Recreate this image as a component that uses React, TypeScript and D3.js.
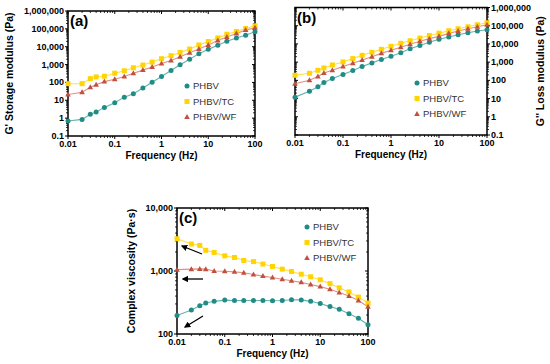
import React from 'react';
import * as d3 from 'd3';

// frequency sweep (Hz)
const freq = [0.01, 0.02, 0.03, 0.04, 0.06, 0.1, 0.16, 0.25, 0.4, 0.63, 1, 1.6, 2.5, 4, 6.3, 10, 16, 25, 40, 63, 100];

// (a) storage modulus G' (Pa)
const gStorePHBV = [0.69, 0.85, 1.65, 2.2, 4, 7.2, 15, 23, 49, 102, 214, 470, 980, 2000, 4100, 7100, 12000, 20000, 31000, 44000, 68000];
const gStoreTC = [85, 85, 163, 203, 223, 330, 450, 660, 940, 1380, 2130, 3150, 4800, 7400, 12500, 19500, 31000, 50000, 71000, 105000, 148000];
const gStoreWF = [21, 28, 53, 75, 111, 152, 215, 330, 490, 740, 1140, 1700, 2750, 4600, 7400, 12500, 22000, 35000, 55000, 85000, 115000];

// (b) loss modulus G'' (Pa)
const gLossPHBV = [12, 25, 44, 76, 125, 210, 345, 570, 910, 1390, 2100, 3300, 5500, 8300, 12300, 17900, 24000, 32000, 41000, 51000, 60000];
const gLossTC = [190, 245, 357, 480, 700, 1030, 1560, 2380, 3480, 5050, 7400, 10800, 15000, 21000, 29000, 39000, 53000, 68000, 87000, 113000, 145000];
const gLossWF = [65, 102, 163, 255, 357, 570, 870, 1320, 2000, 3030, 4450, 6500, 9500, 14000, 19500, 26000, 38000, 51000, 68000, 87000, 112000];

// (c) complex viscosity (Pa·s)
const etaPHBV = [196, 240, 280, 310, 330, 345, 340, 340, 340, 340, 338, 340, 350, 348, 330, 305, 272, 247, 210, 178, 140];
const etaTC = [3250, 2680, 2550, 2130, 1970, 1740, 1640, 1470, 1410, 1290, 1180, 1070, 980, 890, 810, 725, 630, 540, 465, 385, 310];
const etaWF = [1050, 1070, 1080, 1070, 1000, 990, 970, 940, 880, 830, 790, 740, 700, 660, 610, 565, 515, 455, 400, 340, 270];

const seriesNames = ['PHBV', 'PHBV/TC', 'PHBV/WF'];
const xTicks = [0.01, 0.1, 1, 10, 100];
const modTicks = [0.1, 1, 10, 100, 1000, 10000, 100000, 1000000];
const etaTicks = [100, 1000, 10000];

const markColor = ['#218c85', '#ffd400', '#c24f3f'];
const lineColor = ['#62b5ae', '#ffe040', '#e2907f'];
const FONT = 'Liberation Sans, Arial, sans-serif';

const fmt = (v: number) => (v < 1 ? String(v) : d3.format(',')(v));

function Marker({ kind, x, y }: { kind: number; x: number; y: number }) {
  if (kind === 0) return <circle cx={x} cy={y} r={2.5} fill={markColor[0]} />;
  if (kind === 1) return <rect x={x - 2.5} y={y - 2.5} width={5} height={5} fill={markColor[1]} />;
  return <path d={`M${x},${y - 3}L${x + 2.8},${y + 2}L${x - 2.8},${y + 2}Z`} fill={markColor[2]} />;
}

function minorTicks(lo: number, hi: number) {
  const out: number[] = [];
  for (let e = Math.floor(Math.log10(lo)); e < Math.ceil(Math.log10(hi)); e++) {
    for (let m = 2; m <= 9; m++) {
      const v = m * Math.pow(10, e);
      if (v > lo && v < hi) out.push(v);
    }
  }
  return out;
}

type PanelProps = {
  left: number; right: number; top: number; bottom: number;
  yDomain: [number, number]; yTicks: number[];
  side: 'left' | 'right';
  title: string; titleX: number;
  letter: string;
  legend: [number, number];
  data: number[][];
  children?: React.ReactNode;
};

function Panel(p: PanelProps) {
  const x = d3.scaleLog().domain([0.01, 100]).range([p.left, p.right]);
  const y = d3.scaleLog().domain(p.yDomain).range([p.bottom, p.top]);
  const line = d3.line<number>().x((_, i) => x(freq[i])).y((d) => y(d));
  const xMinor = minorTicks(0.01, 100);
  const yMinor = minorTicks(p.yDomain[0], p.yDomain[1]);
  const axisX = p.side === 'left' ? p.left : p.right;
  const dir = p.side === 'left' ? -1 : 1;
  const otherX = p.side === 'left' ? p.right : p.left;
  const midY = (p.top + p.bottom) / 2;
  return (
    <g fontFamily={FONT}>
      {/* ticks */}
      {xTicks.map((t) => (
        <g key={'xt' + t}>
          <line x1={x(t)} x2={x(t)} y1={p.bottom} y2={p.bottom + 3} stroke="#000" strokeWidth={1} />
          <line x1={x(t)} x2={x(t)} y1={p.top} y2={p.top + 3} stroke="#000" strokeWidth={1} />
          <text x={x(t)} y={p.bottom + 11} textAnchor="middle" fontSize={9} fontWeight="bold">{fmt(t)}</text>
        </g>
      ))}
      {xMinor.map((t) => (
        <g key={'xm' + t}>
          <line x1={x(t)} x2={x(t)} y1={p.bottom} y2={p.bottom + 2} stroke="#000" strokeWidth={0.8} />
          <line x1={x(t)} x2={x(t)} y1={p.top} y2={p.top + 2} stroke="#000" strokeWidth={0.8} />
        </g>
      ))}
      {p.yTicks.map((t) => (
        <g key={'yt' + t}>
          <line x1={axisX} x2={axisX + dir * 3} y1={y(t)} y2={y(t)} stroke="#000" strokeWidth={1} />
          <line x1={otherX} x2={otherX + dir * 3} y1={y(t)} y2={y(t)} stroke="#000" strokeWidth={1} />
          <text x={axisX + dir * 4} y={y(t) + 3} textAnchor={p.side === 'left' ? 'end' : 'start'} fontSize={9} fontWeight="bold">{fmt(t)}</text>
        </g>
      ))}
      {yMinor.map((t) => (
        <g key={'ym' + t}>
          <line x1={axisX} x2={axisX + dir * 2} y1={y(t)} y2={y(t)} stroke="#000" strokeWidth={0.8} />
          <line x1={otherX} x2={otherX + dir * 2} y1={y(t)} y2={y(t)} stroke="#000" strokeWidth={0.8} />
        </g>
      ))}
      <rect x={p.left} y={p.top} width={p.right - p.left} height={p.bottom - p.top} fill="none" stroke="#000" strokeWidth={1.5} />
      {/* series */}
      {p.data.map((s, k) => (
        <path key={'l' + k} d={line(s) || ''} fill="none" stroke={lineColor[k]} strokeWidth={1.1} />
      ))}
      {p.data.map((s, k) => s.map((v, i) => <Marker key={k + '-' + i} kind={k} x={x(freq[i])} y={y(v)} />))}
      {/* legend */}
      {seriesNames.map((n, k) => (
        <g key={n}>
          <Marker kind={k} x={p.legend[0]} y={p.legend[1] + k * 15.5} />
          <text x={p.legend[0] + 6} y={p.legend[1] + k * 15.5 + 3.3} fontSize={9.5} fill="#333">{n}</text>
        </g>
      ))}
      <text x={p.left + 2} y={p.top + 15} fontSize={15} fontWeight="bold">{p.letter}</text>
      <text x={(p.left + p.right) / 2} y={p.bottom + 23} textAnchor="middle" fontSize={10} fontWeight="bold">Frequency (Hz)</text>
      <text transform={`translate(${p.titleX},${midY}) rotate(-90)`} textAnchor="middle" fontSize={10.5} fontWeight="bold">{p.title}</text>
      {p.children}
    </g>
  );
}

export default function App() {
  const arrows = [
    [202, 254, 182, 246],
    [203, 279, 183, 279],
    [203, 316, 185, 327],
  ];
  return (
    <svg width={550} height={364} style={{ position: 'absolute', left: 0, top: 0, background: '#fff' }}>
      <defs>
        <marker id="ah" viewBox="0 0 10 10" refX={8} refY={5} markerWidth={5} markerHeight={5} orient="auto">
          <path d="M0,0L10,5L0,10Z" fill="#000" />
        </marker>
      </defs>
      <Panel left={68} right={255} top={11} bottom={136} yDomain={[0.1, 1000000]} yTicks={modTicks} side="left"
        title="G' Storage modulus (Pa)" titleX={13} letter="(a)" legend={[187, 86]}
        data={[gStorePHBV, gStoreTC, gStoreWF]} />
      <Panel left={295} right={487} top={7.5} bottom={135} yDomain={[0.1, 1000000]} yTicks={modTicks} side="right"
        title="G'' Loss modulus (Pa)" titleX={544} letter="(b)" legend={[417, 83]}
        data={[gLossPHBV, gLossTC, gLossWF]} />
      <Panel left={177} right={368} top={208} bottom={334} yDomain={[100, 10000]} yTicks={etaTicks} side="left"
        title="Complex viscosity (Pa·s)" titleX={135} letter="(c)" legend={[307, 227]}
        data={[etaPHBV, etaTC, etaWF]}>
        {arrows.map((a, i) => (
          <line key={i} x1={a[0]} y1={a[1]} x2={a[2]} y2={a[3]} stroke="#000" strokeWidth={1.3} markerEnd="url(#ah)" />
        ))}
      </Panel>
    </svg>
  );
}
